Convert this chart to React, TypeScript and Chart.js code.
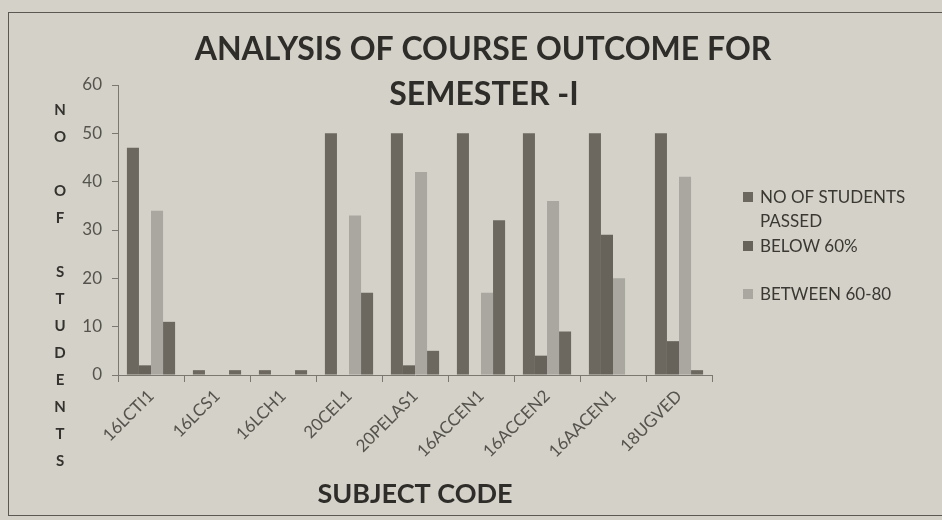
import React, { useEffect, useRef } from "react";
import { Chart, registerables } from "chart.js";
Chart.register(...registerables);

const categories = ["16LCTI1", "16LCS1", "16LCH1", "20CEL1", "20PELAS1", "16ACCEN1", "16ACCEN2", "16AACEN1", "18UGVED"];
const passed = [47, 1, 1, 50, 50, 50, 50, 50, 50];
const below60 = [2, 0, 0, 0, 2, 0, 4, 29, 7];
const between6080 = [34, 0, 0, 33, 42, 17, 36, 20, 41];
const above80 = [11, 1, 1, 17, 5, 32, 9, 0, 1];
const seriesNames = ["NO OF STUDENTS PASSED", "BELOW 60%", "BETWEEN 60-80", "ABOVE 80"];
const titleLines = ["ANALYSIS OF COURSE OUTCOME FOR", "SEMESTER -I"];
const yTitleLetters = ["N", "O", "", "O", "F", "", "S", "T", "U", "D", "E", "N", "T", "S"];
const xTitle = "SUBJECT CODE";
const legendLines = [["NO OF STUDENTS", "PASSED"], ["BELOW 60%"], ["", "BETWEEN 60-80"]];

const BG = "#d3d1c8";
const DARK = "#6c6860";
const DARK2 = "#67635b";
const LIGHT = "#a9a79f";
const TEXT = "#2f2d29";
const TICK = "#55534d";

const textPlugin = {
  id: "textPlugin",
  afterDraw(chart: any) {
    const ctx = chart.ctx;
    ctx.save();
    // main title
    ctx.fillStyle = TEXT;
    ctx.textAlign = "center";
    ctx.textBaseline = "middle";
    ctx.font = "bold 32px Lato";
    ctx.fillText(titleLines[0], 483, 50);
    ctx.fillText(titleLines[1], 484, 95);
    // stacked y title
    ctx.font = "bold 15px Lato";
    ctx.fillStyle = "#34322e";
    yTitleLetters.forEach((l, i) => {
      if (l) ctx.fillText(l, 60, 110 + i * 27);
    });
    // legend
    ctx.textAlign = "left";
    ctx.font = "17px Lato";
    const colors = chart.data.datasets.map((d: any) => d.backgroundColor);
    let y = 197;
    legendLines.forEach((lines, i) => {
      lines.forEach((t, j) => {
        const ly = y + j * 24;
        if (t) {
          if (j === 0 || (i === 2 && j === 1)) {
            ctx.fillStyle = colors[i];
            ctx.fillRect(743, ly - 5, 10, 10);
          }
          ctx.fillStyle = "#3a3833";
          ctx.fillText(t, 760, ly + 1);
        }
      });
      y += lines.length * 24 + (i === 1 ? 0 : 1);
    });
    ctx.restore();
  },
};

export default function App() {
  const ref = useRef<HTMLCanvasElement>(null);
  useEffect(() => {
    const chart = new Chart(ref.current as HTMLCanvasElement, {
      type: "bar",
      data: {
        labels: categories,
        datasets: [
          { label: seriesNames[0], data: passed, backgroundColor: DARK },
          { label: seriesNames[1], data: below60, backgroundColor: DARK2 },
          { label: seriesNames[2], data: between6080, backgroundColor: LIGHT },
          { label: seriesNames[3], data: above80, backgroundColor: DARK },
        ],
      },
      options: {
        animation: false,
        responsive: false,
        layout: { padding: { top: 85, right: 230, left: 0, bottom: 0 } },
        datasets: { bar: { categoryPercentage: 0.73, barPercentage: 1 } },
        plugins: { legend: { display: false }, title: { display: false }, tooltip: { enabled: false } },
        scales: {
          x: {
            afterFit: (s: any) => { s.height = 145; },
            grid: { drawOnChartArea: false, offset: true, tickLength: 7, color: "#7a7871" },
            border: { color: "#7a7871" },
            ticks: { minRotation: 45, maxRotation: 45, autoSkip: false, color: TICK, font: { family: "Lato", size: 17 }, padding: 4 },
            title: { display: true, text: xTitle, color: TEXT, font: { family: "Lato", size: 27, weight: "bold" }, padding: { top: 0, bottom: 10 } },
          },
          y: {
            min: 0,
            max: 60,
            afterFit: (s: any) => { s.width = 118; },
            grid: { drawOnChartArea: false, tickLength: 6, color: "#7a7871" },
            border: { color: "#7a7871" },
            ticks: { stepSize: 10, color: TICK, font: { family: "Lato", size: 17 }, padding: 10 },
          },
        },
      },
      plugins: [textPlugin],
    });
    return () => chart.destroy();
  }, []);
  return (
    <div style={{ position: "fixed", left: 0, top: 0, width: 942, height: 520, background: BG, overflow: "hidden" }}>
      <div style={{ position: "absolute", left: 8, top: 12, width: 1000, height: 502, border: "1px solid #5a5852" }} />
      <canvas ref={ref} width={942} height={520} style={{ position: "absolute", left: 0, top: 0 }} />
    </div>
  );
}
